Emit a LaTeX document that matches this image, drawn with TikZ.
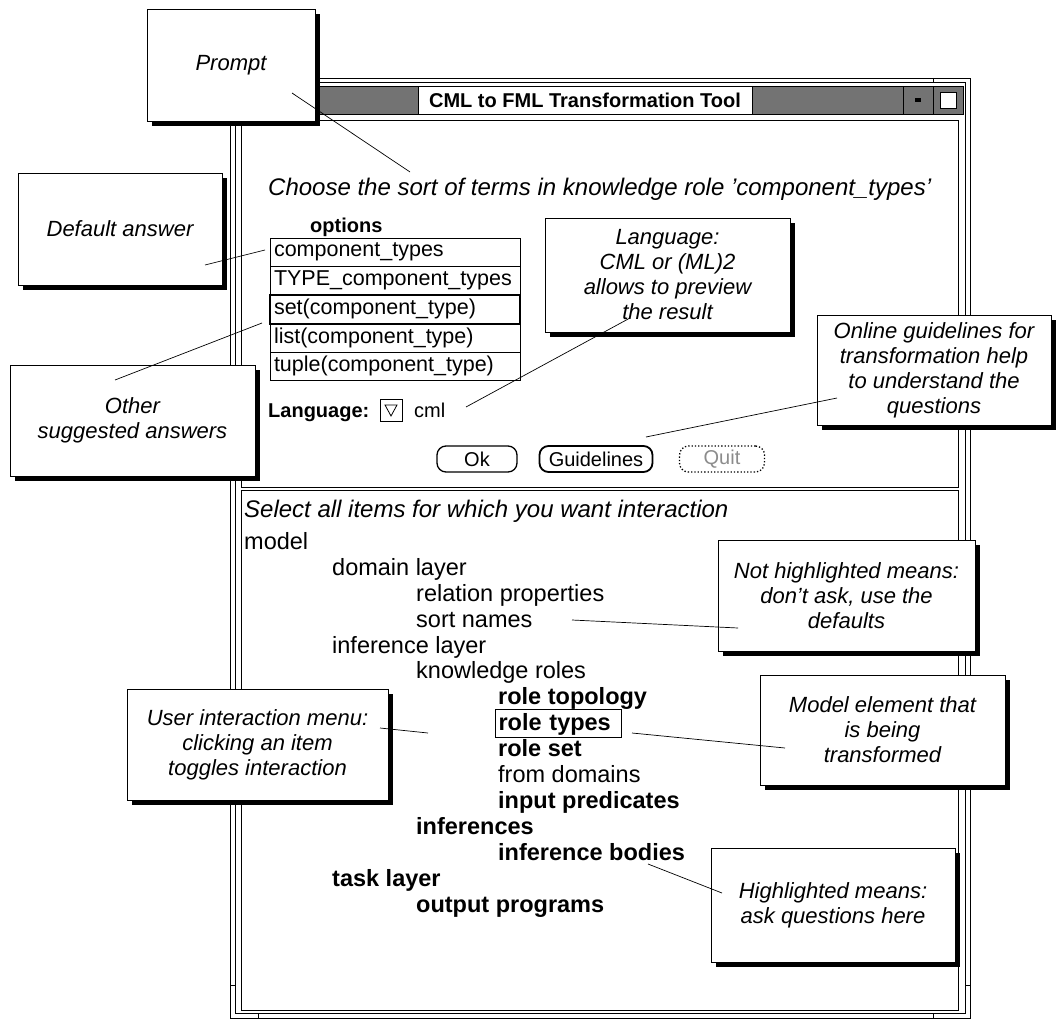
\documentclass[tikz,border=0pt]{standalone}
\usepackage{fontspec}
\setmainfont{Liberation Sans}
\usetikzlibrary{positioning,shadows}
\newcommand\calfont{\fontsize{22}{25}\selectfont\itshape}
\newcommand\scrfont{\fontsize{23.5}{26}\selectfont}
\newcommand\askfont{\fontsize{24}{26}\selectfont\itshape}
\newcommand\optfont{\fontsize{21.5}{24}\selectfont}
\newcommand\btnfont{\fontsize{20}{22}\selectfont}
\tikzset{
  callout/.style={draw,fill=white,line width=0.8pt,align=center,font=\calfont,inner sep=0pt,
    drop shadow={shadow xshift=5pt,shadow yshift=-5pt,fill=black,opacity=1}},
  pointer/.style={draw,line width=0.7pt},
  item/.style={anchor=base west,inner sep=0pt,font=\scrfont},
  hotitem/.style={item,font=\scrfont\bfseries},
  optrow/.style={draw,line width=0.8pt,outer sep=0pt,minimum width=250pt,minimum height=28.5pt,
    text width=242pt,align=left,inner xsep=4pt,inner ysep=0pt,font=\optfont},
  button/.style={draw,line width=1.3pt,rounded corners=9pt,minimum height=26pt,inner xsep=5pt,font=\btnfont},
  frameline/.style={draw,line width=0.8pt},
  barbtn/.style={draw,line width=0.8pt,fill=black!55,minimum width=30pt,minimum height=28pt,inner sep=0pt}
}
\begin{document}
\begin{tikzpicture}[x=1pt,y=-1pt]
  \useasboundingbox (0,0) rectangle (1056,1019);
  % window frame and title bar
  \draw[frameline] (230,78) rectangle (970,1018);
  \draw[frameline] (235,82) rectangle (965,1013);
  \filldraw[frameline,fill=black!55] (235,86) rectangle (963,114);
  \node[draw,fill=white,line width=0.8pt,minimum width=334pt,minimum height=28pt,inner sep=0pt,
    font=\fontsize{20}{22}\selectfont\bfseries] (title) at (585,100) {CML to FML Transformation Tool};
  \node[barbtn] (minbtn) at (918,100) {};
  \node[barbtn] (maxbtn) at (948,100) {};
  \fill (minbtn.center) ++(-3,-2) rectangle ++(6,4);
  \draw[fill=white,line width=0.8pt] (maxbtn.center) ++(-8,-8) rectangle ++(16,16);
  \draw[frameline] (230,985) -- (235,985) (965,985) -- (970,985)
    (258,1013) -- (258,1018) (933,1013) -- (933,1018) (933,78) -- (933,82);
  \draw[frameline] (241,120) rectangle (958,487);
  \draw[frameline] (241,490) rectangle (958,1010);

  % upper panel: the question
  \node[item,font=\askfont] (ask) at (268,195) {Choose the sort of terms in knowledge role 'component\_types'};
  \node[item,font=\btnfont\bfseries] (optlabel) at (310,232) {options};
  \node[optrow,anchor=north west] (opt1) at (270,238) {component\_types};
  \node[optrow,below=0pt of opt1] (opt2) {TYPE\_component\_types};
  \node[optrow,below=0pt of opt2,line width=2pt] (opt3) {set(component\_type)};
  \node[optrow,below=0pt of opt3] (opt4) {list(component\_type)};
  \node[optrow,below=0pt of opt4] (opt5) {tuple(component\_type)};
  \node[item,font=\btnfont\bfseries] (langlabel) at (268,417) {Language:};
  \node[draw,line width=1pt,minimum size=22pt,inner sep=0pt] (langbtn) at (391,410) {};
  \draw[line width=0.8pt] (langbtn.center) ++(-6,-5) -- ++(12,0) -- ++(-6,11) -- cycle;
  \node[item,font=\btnfont] (langval) at (414,417) {cml};
  \node[button,minimum width=80pt] (ok) at (477,459) {Ok};
  \node[button,line width=1.8pt,minimum width=113pt] (guide) at (596,459) {Guidelines};
  \node[button,dotted,minimum width=85pt,text=black!45] (quit) at (722,459) {Quit};

  % lower panel: interaction menu
  \node[item,font=\askfont] (select) at (244,517) {Select all items for which you want interaction};
  \node[item] (model) at (244,549) {model};
  \node[item] (domlayer) at (332,575) {domain layer};
  \node[item] (relprops) at (416,601) {relation properties};
  \node[item] (sortnames) at (416,627) {sort names};
  \node[item] (inflayer) at (332,653) {inference layer};
  \node[item] (knowroles) at (416,678) {knowledge roles};
  \node[hotitem] (roletopo) at (498,704) {role topology};
  \node[hotitem,draw,line width=1pt,inner sep=3pt,text width=120pt] (roletypes) at (495,730) {role types};
  \node[hotitem] (roleset) at (498,756) {role set};
  \node[item] (fromdom) at (498,782) {from domains};
  \node[hotitem] (inpreds) at (498,808) {input predicates};
  \node[hotitem] (infs) at (416,834) {inferences};
  \node[hotitem] (infbodies) at (498,860) {inference bodies};
  \node[hotitem] (tasklayer) at (332,886) {task layer};
  \node[hotitem] (outprogs) at (416,912) {output programs};

  % callouts
  \node[callout,minimum width=168pt,minimum height=112pt] (prompt) at (231,65) {Prompt};
  \node[callout,minimum width=204pt,minimum height=112pt] (default) at (120,229) {Default answer};
  \node[callout,minimum width=245pt,minimum height=111pt] (other) at (132.5,420.5) {Other\\suggested answers};
  \node[callout,minimum width=245pt,minimum height=114pt] (language) at (667.5,275)
    {Language:\\CML or (ML)2\\allows to preview\\the result};
  \node[callout,minimum width=234pt,minimum height=110pt] (online) at (934,370)
    {Online guidelines for\\transformation help\\to understand the\\questions};
  \node[callout,minimum width=257pt,minimum height=111pt] (nothigh) at (846.5,595.5)
    {Not highlighted means:\\don’t ask, use the\\defaults};
  \node[callout,minimum width=245pt,minimum height=110pt] (element) at (882.5,730)
    {Model element that\\is being\\transformed};
  \node[callout,minimum width=261pt,minimum height=111pt] (usermenu) at (257.5,744.5)
    {User interaction menu:\\clicking an item\\toggles interaction};
  \node[callout,minimum width=244pt,minimum height=114pt] (highl) at (833,905)
    {Highlighted means:\\ask questions here};

  % pointer ends
  \coordinate (promptfoot) at (292,93);    \coordinate (prompttip) at (410,172);
  \coordinate (defaultfoot) at (205,265);  \coordinate (defaulttip) at (265,250);
  \coordinate (otherfoot) at (115,380);    \coordinate (othertip) at (262,323);
  \coordinate (langfoot) at (630,318);     \coordinate (langtip) at (466,407);
  \coordinate (onlinefoot) at (837,398);   \coordinate (onlinetip) at (646,437);
  \coordinate (nothighfoot) at (738,628);  \coordinate (nothightip) at (572,620);
  \coordinate (elementfoot) at (785,748);  \coordinate (elementtip) at (632,733);
  \coordinate (userfoot) at (380,728);     \coordinate (usertip) at (428,733);
  \coordinate (highlfoot) at (722,893);    \coordinate (highltip) at (648,864);

  \draw[pointer] (promptfoot) -- (prompttip);
  \draw[pointer] (defaultfoot) -- (defaulttip);
  \draw[pointer] (otherfoot) -- (othertip);
  \draw[pointer] (langfoot) -- (langtip);
  \draw[pointer] (onlinefoot) -- (onlinetip);
  \draw[pointer] (nothighfoot) -- (nothightip);
  \draw[pointer] (elementfoot) -- (elementtip);
  \draw[pointer] (userfoot) -- (usertip);
  \draw[pointer] (highlfoot) -- (highltip);
\end{tikzpicture}
\end{document}
